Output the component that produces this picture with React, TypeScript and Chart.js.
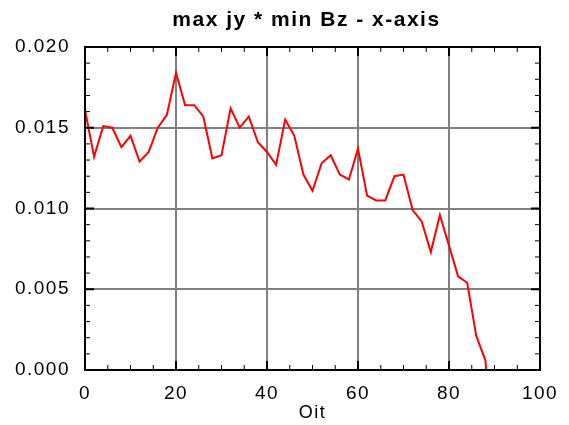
import React, { useEffect, useRef } from 'react';
import { Chart, registerables } from 'chart.js';

Chart.register(...registerables);

const chartTitle = 'max jy * min Bz - x-axis';
const xAxisTitle = 'Oit';

const iterations = [
  0, 2, 4, 6, 8, 10, 12, 14, 16, 18,
  20, 22, 24, 26, 28, 30, 32, 34, 36, 38,
  40, 42, 44, 46, 48, 50, 52, 54, 56, 58,
  60, 62, 64, 66, 68, 70, 72, 74, 76, 78,
  80, 82, 84, 86, 88, 90,
];

const values = [
  0.0161, 0.0132, 0.0151, 0.0150, 0.0138, 0.0145, 0.0129, 0.0135, 0.0150, 0.0158,
  0.0184, 0.0164, 0.0164, 0.0157, 0.0131, 0.0133, 0.0162, 0.0150, 0.0157, 0.0141,
  0.0135, 0.0127, 0.0155, 0.0145, 0.0121, 0.0111, 0.0128, 0.0133, 0.0121, 0.0118,
  0.0137, 0.0108, 0.0105, 0.0105, 0.0120, 0.0121, 0.0099, 0.0092, 0.0073, 0.0096,
  0.0077, 0.0058, 0.0054, 0.0021, 0.0006, -0.006,
];

const xMin = 0;
const xMax = 100;
const xMajorStep = 20;
const xMinorStep = 5;
const yMin = 0;
const yMax = 0.02;
const yMajorStep = 0.005;
const yMinorStep = 0.001;

const FONT = '"Liberation Sans", Arial, Helvetica, sans-serif';

const framePlugin = {
  id: 'frame',
  beforeDraw(chart: any) {
    (chart.ctx as any).letterSpacing = '1.5px';
  },
  afterDraw(chart: any) {
    const { ctx, chartArea: a, scales } = chart;
    const xs = scales.x;
    const ys = scales.y;
    ctx.save();
    ctx.strokeStyle = '#000';
    const nx = Math.round((xMax - xMin) / xMinorStep);
    for (let i = 0; i <= nx; i++) {
      const v = xMin + i * xMinorStep;
      const px = xs.getPixelForValue(v);
      const major = Math.abs(v / xMajorStep - Math.round(v / xMajorStep)) < 1e-9;
      const len = major ? 9 : 5;
      ctx.lineWidth = major ? 2 : 1;
      ctx.beginPath();
      ctx.moveTo(px, a.bottom);
      ctx.lineTo(px, a.bottom - len);
      ctx.moveTo(px, a.top);
      ctx.lineTo(px, a.top + len);
      ctx.stroke();
    }
    const ny = Math.round((yMax - yMin) / yMinorStep);
    for (let i = 0; i <= ny; i++) {
      const v = yMin + i * yMinorStep;
      const py = ys.getPixelForValue(v);
      const major = i % Math.round(yMajorStep / yMinorStep) === 0;
      const len = major ? 9 : 5;
      ctx.lineWidth = major ? 2 : 1;
      ctx.beginPath();
      ctx.moveTo(a.left, py);
      ctx.lineTo(a.left + len, py);
      ctx.moveTo(a.right, py);
      ctx.lineTo(a.right - len, py);
      ctx.stroke();
    }
    ctx.lineWidth = 2;
    ctx.strokeRect(a.left, a.top, a.right - a.left, a.bottom - a.top);

    ctx.font = `bold 21px ${FONT}`;
    ctx.fillStyle = '#000';
    ctx.textAlign = 'center';
    ctx.textBaseline = 'middle';
    (ctx as any).letterSpacing = '1.5px';
    ctx.fillText(chartTitle, (a.left + a.right) / 2 - 6, 20);
    ctx.restore();
  },
};

export default function App() {
  const ref = useRef<HTMLCanvasElement | null>(null);

  useEffect(() => {
    if (!ref.current) return;
    const points = iterations.map((x, i) => ({ x, y: values[i] }));
    const chart = new Chart(ref.current, {
      type: 'line',
      data: {
        datasets: [
          {
            data: points,
            borderColor: '#ff0000',
            backgroundColor: '#ff0000',
            borderWidth: 2,
            pointRadius: 0,
            tension: 0,
            fill: false,
          },
        ],
      },
      options: {
        animation: false,
        responsive: true,
        maintainAspectRatio: false,
        layout: { padding: { top: 47, right: 29, left: 0, bottom: 0 } },
        plugins: {
          legend: { display: false },
          title: { display: false },
          tooltip: { enabled: false },
        },
        scales: {
          x: {
            type: 'linear',
            min: xMin,
            max: xMax,
            ticks: {
              stepSize: xMajorStep,
              color: '#000',
              font: { family: FONT, size: 19 },
              padding: 12,
              maxRotation: 0,
            },
            grid: { color: '#808080', lineWidth: 2, drawTicks: false },
            border: { display: true, color: '#000', width: 2 },
            title: {
              display: true,
              text: xAxisTitle,
              color: '#000',
              font: { family: FONT, size: 18 },
              padding: { top: 0, bottom: 1 },
            },
            afterFit: (scale: any) => {
              scale.height = 55;
            },
          },
          y: {
            type: 'linear',
            min: yMin,
            max: yMax,
            ticks: {
              stepSize: yMajorStep,
              color: '#000',
              font: { family: FONT, size: 19 },
              padding: 15,
              callback: (v: any) => Number(v).toFixed(3),
            },
            grid: { color: '#808080', lineWidth: 2, drawTicks: false },
            border: { display: true, color: '#000', width: 2 },
            afterFit: (scale: any) => {
              scale.width = 85;
            },
          },
        },
      },
      plugins: [framePlugin],
    });
    return () => chart.destroy();
  }, []);

  return (
    <div style={{ position: 'absolute', left: 0, top: 0, width: 569, height: 425 }}>
      <canvas ref={ref} />
    </div>
  );
}
